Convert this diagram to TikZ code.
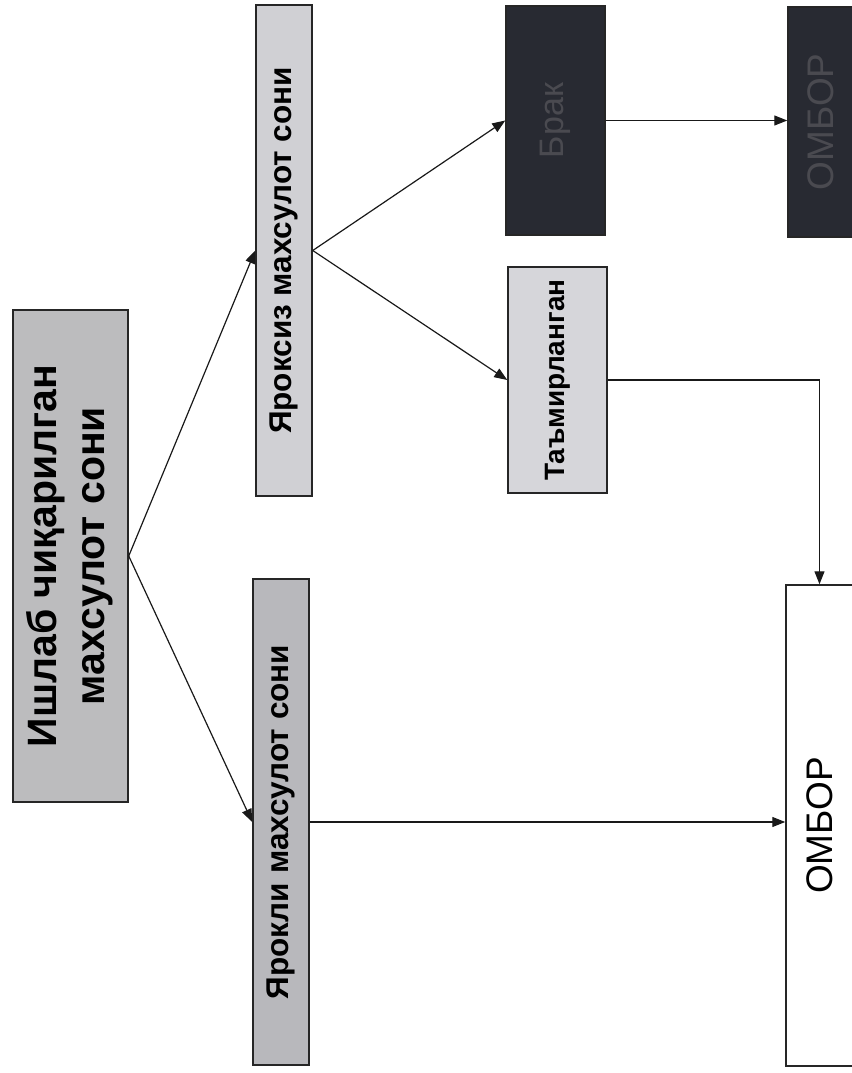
\documentclass[tikz,border=0pt]{standalone}
\usepackage{fontspec}
\setmainfont{Liberation Sans}
\usepackage{graphicx}
\usetikzlibrary{arrows.meta}
\definecolor{mainfill}{RGB}{188,188,190}
\definecolor{badfill}{RGB}{208,208,212}
\definecolor{goodfill}{RGB}{184,184,188}
\definecolor{repfill}{RGB}{214,214,218}
\definecolor{darkfill}{RGB}{40,42,50}
\definecolor{darktext}{RGB}{74,74,80}
\begin{document}
\begin{tikzpicture}[x=1pt,y=-1pt,
  box/.style={draw=black!85, line width=1.5pt, inner sep=0pt, anchor=center},
  arr/.style={-{Triangle[length=13pt,width=10pt]}, line width=1.2pt, draw=black!90}]
\useasboundingbox[fill=white] (0,0) rectangle (851,1073);
% boxes
\node[box, fill=mainfill, minimum width=115pt, minimum height=492pt] (main) at (70.5,556)
  {\rotatebox{90}{\fontsize{41}{48}\selectfont\bfseries\begin{tabular}{@{}c@{}}Ишлаб чиқарилган\\махсулот сони\end{tabular}}};
\node[box, fill=badfill, minimum width=56pt, minimum height=491pt] (bad) at (284,250.5)
  {\rotatebox{90}{\fontsize{31.5}{37}\selectfont\bfseries Яроксиз махсулот сони}};
\node[box, fill=goodfill, minimum width=56pt, minimum height=486pt] (good) at (281,822)
  {\rotatebox{90}{\fontsize{31.5}{37}\selectfont\bfseries Ярокли махсулот сони}};
\node[box, fill=darkfill, minimum width=99pt, minimum height=229pt, text=darktext] (brak) at (555.5,120.5)
  {\rotatebox{90}{\fontsize{34}{40}\selectfont Брак}};
\node[box, fill=repfill, minimum width=99pt, minimum height=226pt] (rep) at (557.5,380)
  {\rotatebox{90}{\fontsize{28}{34}\selectfont\bfseries Таъмирланган}};
\node[box, fill=darkfill, minimum width=65pt, minimum height=230pt, text=darktext] (omb1) at (820.5,122)
  {\rotatebox{90}{\fontsize{37}{44}\selectfont ОМБОР}};
\node[box, fill=white, minimum width=67pt, minimum height=481pt] (omb2) at (819.5,825.5)
  {\rotatebox{90}{\fontsize{37}{44}\selectfont ОМБОР}};
% connectors
\draw[arr] (main.east) -- (bad.west);
\draw[arr] (main.east) -- (good.west);
\draw[arr] (bad.east) -- (brak.west);
\draw[arr] (bad.east) -- (rep.west);
\draw[arr] (brak.east) -- (brak.east -| omb1.west);
\draw[arr] (rep.east) -| (omb2.north);
\draw[arr] (good.east) -- (good.east -| omb2.west);
\end{tikzpicture}
\end{document}
